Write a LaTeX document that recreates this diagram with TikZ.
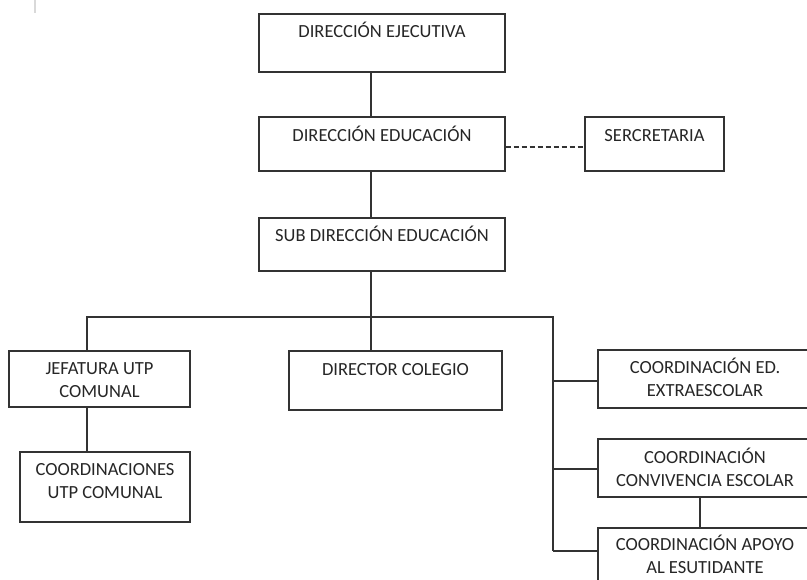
\documentclass[tikz,border=0pt]{standalone}
\usepackage{fontspec}
\setmainfont{Carlito}
\begin{document}
\begin{tikzpicture}[x=1pt,y=-1pt]
\tikzset{
  orgbox/.style={draw=black!80, line width=1.1pt, fill=white, rectangle, inner sep=0pt},
  txt/.style={inner sep=0pt, align=center, text=black!85, font=\fontsize{18.5}{23}\selectfont, anchor=base},
  conn/.style={draw=black!80, line width=1.1pt},
  dconn/.style={conn, dash pattern=on 5pt off 3pt}
}
\useasboundingbox (0,0) rectangle (807,580);
\fill[white] (0,0) rectangle (807,580);
\draw[black!15, line width=1.5pt] (35,0) -- (35,13);

% boxes
\node[orgbox, minimum width=246pt, minimum height=58pt] (de)  at (382,43) {};
\node[orgbox, minimum width=246pt, minimum height=54pt] (ded) at (382,144) {};
\node[orgbox, minimum width=139pt, minimum height=54pt] (sec) at (654.5,144) {};
\node[orgbox, minimum width=246pt, minimum height=53pt] (sub) at (382,244.5) {};
\node[orgbox, minimum width=181pt, minimum height=56pt] (jef) at (99.5,379) {};
\node[orgbox, minimum width=170pt, minimum height=70pt] (coo) at (105,487) {};
\node[orgbox, minimum width=213pt, minimum height=59pt] (dir) at (395.5,380.5) {};
\node[orgbox, minimum width=214pt, minimum height=58pt] (ext) at (705,379) {};
\node[orgbox, minimum width=214pt, minimum height=58pt] (con) at (705,468) {};
\node[orgbox, minimum width=214pt, minimum height=72pt] (apo) at (705,564) {};

% texts (base anchor = baseline of last line)
\node[txt] (deT)  at ([yshift=-24pt]de.north)  {DIRECCIÓN EJECUTIVA};
\node[txt] (dedT) at ([yshift=-25pt]ded.north) {DIRECCIÓN EDUCACIÓN};
\node[txt] (secT) at ([yshift=-25pt]sec.north) {SERCRETARIA};
\node[txt] (subT) at ([yshift=-24pt]sub.north) {SUB DIRECCIÓN EDUCACIÓN};
\node[txt] (jefT) at ([yshift=-47pt]jef.north) {JEFATURA UTP\\COMUNAL};
\node[txt] (cooT) at ([yshift=-47pt]coo.north) {COORDINACIONES\\UTP COMUNAL};
\node[txt] (dirT) at ([yshift=-25pt]dir.north) {DIRECTOR COLEGIO};
\node[txt] (extT) at ([yshift=-47pt]ext.north) {COORDINACIÓN ED.\\EXTRAESCOLAR};
\node[txt] (conT) at ([yshift=-48pt]con.north) {COORDINACIÓN\\CONVIVENCIA ESCOLAR};
\node[txt] (apoT) at ([yshift=-46pt]apo.north) {COORDINACIÓN APOYO\\AL ESUTIDANTE};

% helper coordinates
\coordinate (mx) at (371,0);
\coordinate (jx) at (87,0);
\coordinate (rx) at (553,0);
\coordinate (cx) at (700,0);
\coordinate (bus) at (0,317);
\coordinate (dy) at (0,147);
\coordinate (b1) at (0,381);
\coordinate (b2) at (0,469);
\coordinate (b3) at (0,551);

% connectors
\draw[conn] (de.south -| mx) -- (ded.north -| mx);
\draw[conn] (ded.south -| mx) -- (sub.north -| mx);
\draw[dconn] (ded.east |- dy) -- (sec.west |- dy);
\draw[conn] (sub.south -| mx) -- (dir.north -| mx);
\draw[conn] (jef.north -| jx) -- (jx |- bus) -- (rx |- bus) -- (rx |- b3);
\draw[conn] (rx |- b1) -- (ext.west |- b1);
\draw[conn] (rx |- b2) -- (con.west |- b2);
\draw[conn] (rx |- b3) -- (apo.west |- b3);
\draw[conn] (jef.south -| jx) -- (coo.north -| jx);
\draw[conn] (con.south -| cx) -- (apo.north -| cx);
\end{tikzpicture}
\end{document}
